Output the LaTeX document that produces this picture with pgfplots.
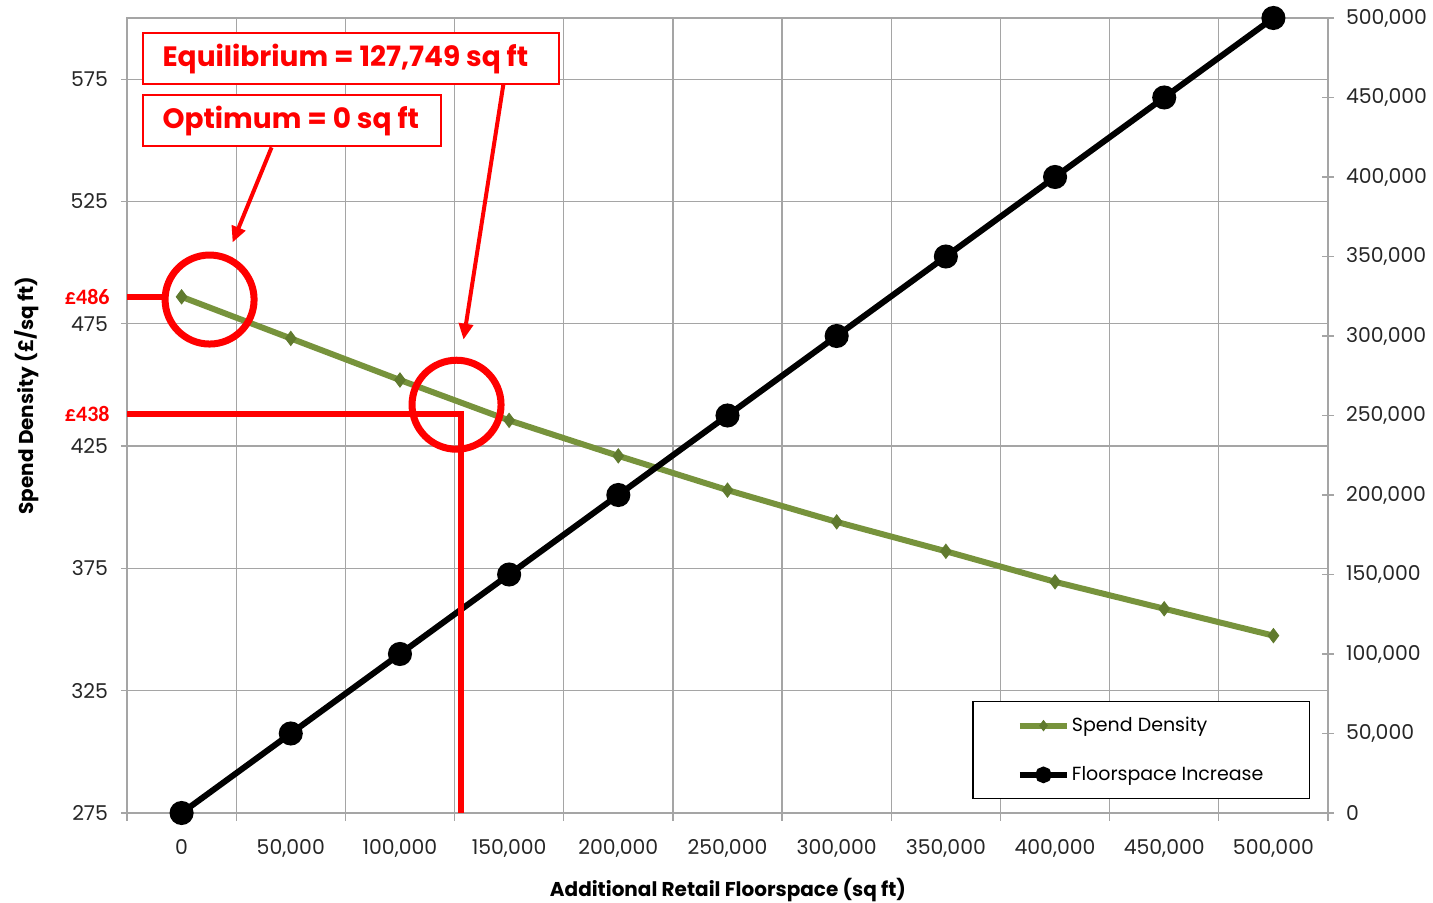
\documentclass[border=0pt]{standalone}
\usepackage{pgfplots}
\pgfplotsset{compat=1.18}
\usepackage{fontspec}
\setmainfont{Poppins}
\newfontfamily\calfont{Carlito}
\usetikzlibrary{arrows.meta}

\definecolor{spendgreen}{RGB}{119,147,60}
\definecolor{spendmark}{RGB}{96,122,46}
\definecolor{gridgray}{RGB}{165,165,165}
\definecolor{annored}{RGB}{255,0,0}

\pgfplotsset{
  chartframe/.style={
    scale only axis, width=600.5pt, height=397.5pt,
    at={(63.5pt,45pt)}, anchor=south west,
    xmin=-25000, xmax=525000,
    scaled ticks=false,
    tick label style={font=\fontsize{10.2}{12}\selectfont, text=black!85},
  },
  spendstyle/.style={spendgreen, line width=3pt, mark=diamond*, mark size=3.5pt,
    mark options={fill=spendmark, draw=spendmark, line width=0.5pt}},
  floorstyle/.style={black, line width=3pt, mark=*, mark size=4.5pt},
}

\begin{document}
\begin{tikzpicture}
\useasboundingbox (0,0) rectangle (716.5pt,451.5pt);

% left axis: spend density per sq ft
\begin{axis}[chartframe,
  ymin=275, ymax=600,
  ytick={275,325,375,425,475,525,575},
  yticklabels={275,325,375,425,475,525,575},
  ytick pos=left, xtick pos=bottom,
  xtick={0,50000,100000,150000,200000,250000,300000,350000,400000,450000,500000},
  xticklabels={0,{50,000},{100,000},{150,000},{200,000},{250,000},{300,000},{350,000},{400,000},{450,000},{500,000}},
  minor xtick={-25000,25000,75000,125000,175000,225000,275000,325000,375000,425000,475000,525000},
  xminorgrids, ymajorgrids,
  grid style={gridgray, line width=0.6pt},
  minor grid style={gridgray, line width=0.6pt},
  axis line style={gridgray, line width=0.6pt},
  tick align=outside,
  major x tick style={draw=none},
  minor x tick style={gridgray, line width=0.6pt},
  major tick length=3pt, minor tick length=4pt,
  ytick style={gridgray, line width=0.6pt},
  xticklabel style={yshift=-6.5pt},
  yticklabel style={xshift=-3pt},
  xlabel={Additional Retail Floorspace (sq ft)},
  ylabel={Spend Density (£/sq ft)},
  every axis x label/.style={at={(axis description cs:0.5004,-0.0965)}, anchor=center,
    font=\bfseries\fontsize{10}{12}\selectfont},
  every axis y label/.style={at={(axis description cs:-0.0833,0.525)}, anchor=center, rotate=90,
    font=\bfseries\fontsize{10}{12}\selectfont},
]
\addplot[spendstyle] table {
x y
0 486
50000 469
100000 452
150000 435.5
200000 421
250000 407
300000 394
350000 382
400000 369.5
450000 358.5
500000 347.5
};
\end{axis}

% right axis: floorspace increase
\begin{axis}[chartframe,
  ymin=0, ymax=500000,
  axis y line*=right, axis x line=none,
  ytick={0,50000,100000,150000,200000,250000,300000,350000,400000,450000,500000},
  yticklabels={0,{50,000},{100,000},{150,000},{200,000},{250,000},{300,000},{350,000},{400,000},{450,000},{500,000}},
  yticklabel style={xshift=2.5pt},
  tick align=center, major tick length=6pt,
  ytick style={gridgray, line width=0.6pt},
  axis line style={gridgray, line width=0.6pt},
  legend style={at={(0.985,0.0176)}, anchor=south east,
    draw=black, line width=0.6pt, fill=white,
    font=\fontsize{9.5}{11}\selectfont,
    inner xsep=22pt, inner ysep=5.5pt, row sep=12pt,
    nodes={inner xsep=1pt}},
  legend cell align=left,
  legend image code/.code={\draw[mark repeat=2, mark phase=2, #1] plot coordinates {(0pt,0pt) (11.75pt,0pt) (23.5pt,0pt)};},
]
\addlegendimage{spendstyle, mark size=2.5pt}
\addlegendentry{Spend Density}
\addlegendimage{floorstyle, mark size=2.6pt}
\addlegendentry{Floorspace Increase}
\addplot[floorstyle, forget plot] table {
x y
0 0
50000 50000
100000 100000
150000 150000
200000 200000
250000 250000
300000 300000
350000 350000
400000 400000
450000 450000
500000 500000
};
\end{axis}

% annotations in spend-density units
\begin{axis}[chartframe, ymin=275, ymax=600, hide axis, clip=false]
\draw[annored, line width=3pt] (axis cs:-25000,486) -- (axis cs:-7500,486);
\draw[annored, line width=3pt, line join=miter] (axis cs:-25000,438) -- (axis cs:127749,438) -- (axis cs:127749,275);
\node[anchor=east, inner sep=0pt, text=annored, font=\calfont\bfseries\fontsize{11}{13}\selectfont]
  at (axis cs:-25000,486) [xshift=-8.5pt] {£486};
\node[anchor=east, inner sep=0pt, text=annored, font=\calfont\bfseries\fontsize{11}{13}\selectfont]
  at (axis cs:-25000,438) [xshift=-8.5pt] {£438};
\draw[annored, line width=3.5pt] (axis cs:12821,484.9) circle[radius=22.25pt];
\draw[annored, line width=3.5pt] (axis cs:125916,441.9) circle[radius=22.25pt];
\draw[annored, line width=2pt, -{Triangle[length=8pt,width=7pt]}]
  (axis cs:41209,547.1) -- (axis cs:23352,508.2);
\draw[annored, line width=2pt, -{Triangle[length=8pt,width=7pt]}]
  (axis cs:147436,573.3) -- (axis cs:129121,468.5);
\node[draw=annored, line width=1pt, fill=white, anchor=north west,
  minimum width=208pt, minimum height=25.5pt, inner xsep=10pt, inner ysep=0pt,
  text=annored, font=\bfseries\fontsize{14}{16}\selectfont]
  at (axis cs:-18315,594.15) {\makebox[188pt][l]{Equilibrium = 127,749 sq ft}};
\node[draw=annored, line width=1pt, fill=white, anchor=north west,
  minimum width=149pt, minimum height=25.5pt, inner xsep=10pt, inner ysep=0pt,
  text=annored, font=\bfseries\fontsize{14}{16}\selectfont]
  at (axis cs:-18315,568.8) {\makebox[129pt][l]{Optimum = 0 sq ft}};
\end{axis}
\end{tikzpicture}
\end{document}
